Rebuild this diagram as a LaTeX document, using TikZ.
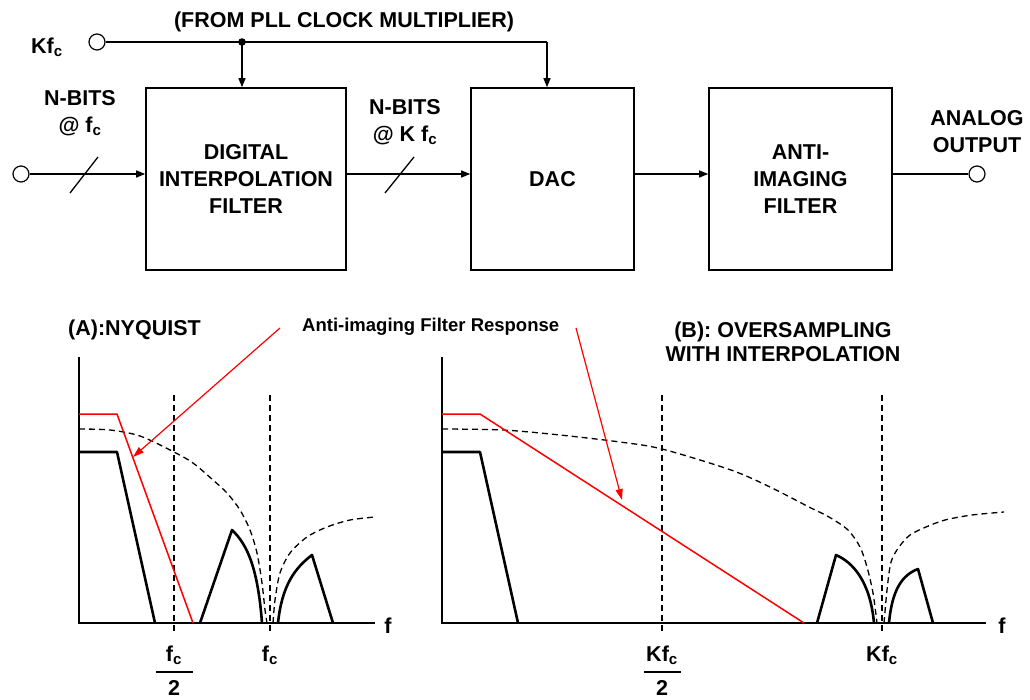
\documentclass[tikz,border=0pt]{standalone}
\usepackage{fontspec}
\setmainfont{Liberation Sans}
\usetikzlibrary{arrows.meta}
\begin{document}
\begin{tikzpicture}[x=1pt,y=-1pt,
  txt/.style={font=\fontsize{21.5}{27}\selectfont\bfseries, inner sep=0pt, align=center},
  blk/.style={draw, line width=1.6pt, minimum height=182pt, inner sep=0pt, align=center,
    font=\fontsize{21.5}{27}\selectfont\bfseries},
  term/.style={draw, circle, line width=1.2pt, minimum size=16pt, inner sep=0pt, fill=white},
  conn/.style={line width=1.3pt},
  arr/.style={conn, -{Triangle[length=9pt,width=7pt]}},
  rarr/.style={red, line width=1.2pt, -{Triangle[length=11pt,width=7pt]}},
  axisl/.style={line width=1.8pt},
  spec/.style={line width=2.6pt, line join=round},
  dashln/.style={line width=1.3pt, dash pattern=on 6pt off 4pt},
  redc/.style={red, line width=1.5pt},
]
\useasboundingbox (0,0) rectangle (1030,700);

% ---------- block diagram ----------
\node[blk, minimum width=200pt] (dif) at (246,179) {DIGITAL\\INTERPOLATION\\FILTER};
\node[blk, minimum width=163pt] (dac) at (552.5,179) {DAC};
\node[blk, minimum width=183pt] (aif) at (800.5,179) {ANTI-\\IMAGING\\FILTER};

\node[term] (kin) at (97,42) {};
\node[term] (in) at (21,174) {};
\node[term] (out) at (977,174) {};

\node[txt] (kl) at (47,47) {Kf\textsubscript{c}};
\node[txt] (pll) at (344,22) {(FROM PLL CLOCK MULTIPLIER)};
\node[txt] (nb1) at (80,113) {N-BITS\\@ f\textsubscript{c}};
\node[txt] (nb2) at (405,122) {N-BITS\\@ K f\textsubscript{c}};
\node[txt] (ao) at (977,132) {ANALOG\\OUTPUT};

\coordinate (jn) at (242,42);
\coordinate (dk) at (547,42);
\draw[conn] (kin.east) -- (jn) -- (dk);
\fill (jn) circle (3.8pt);
\draw[arr] (jn) -- (jn |- dif.north);
\draw[arr] (dk) -- (dk |- dac.north);

\draw[arr] (in.east) -- (in.east -| dif.west);
\draw[arr] (in.east -| dif.east) -- (in.east -| dac.west);
\draw[arr] (in.east -| dac.east) -- (in.east -| aif.west);
\draw[conn] (out.west -| aif.east) -- (out.west);

% bus slashes
\draw[conn] (70,193) -- (98,157);
\draw[conn] (385,193) -- (414,157);

% ---------- graph A ----------
\node[txt, anchor=west] (ta) at (68,330) {(A):NYQUIST};
\node[font=\fontsize{18.5}{22}\selectfont\bfseries, inner sep=0pt, anchor=west] (resp) at (302,327) {Anti-imaging Filter Response};

\coordinate (oa) at (79,623);
\draw[axisl] (79,357) -- (oa) -- (375,623);
\node[txt] (fa) at (388,626) {f};

\draw[dashln] (174,395) -- (174,633);
\draw[dashln] (270,395) -- (270,633);

\draw[dashln] plot[smooth, tension=0.5] coordinates {(79,429) (110,430) (140,436) (174,452) (193,463) (213,480) (227,493) (240,510) (250,530) (257,553) (262,583) (265,610) (267,623)};
\draw[dashln] plot[smooth, tension=0.5] coordinates {(273,623) (275,600) (280,573) (290,553) (307,537) (327,527) (350,520) (375,517)};

\draw[redc] (79,414) -- (117,414) -- (193,623);
\draw[spec] (79,452) -- (117,452) -- (155,623);
\draw[spec] (200,623) -- (232,530) .. controls (248,545) and (258,570) .. (262,623);
\draw[spec] (278,623) .. controls (282,585) and (295,568) .. (312,555) -- (333,623);

\coordinate (ra1) at (280,328);
\coordinate (ra1e) at (133,457);
\draw[rarr] (ra1) -- (ra1e);

\node[txt] (a1) at (174,655) {f\textsubscript{c}};
\draw[line width=1.4pt] (156,672) -- (193,672);
\node[txt] (a2) at (174,688) {2};
\node[txt] (a3) at (270,655) {f\textsubscript{c}};

% ---------- graph B ----------
\node[txt, font=\fontsize{21.5}{24}\selectfont\bfseries] (tb) at (783,342) {(B): OVERSAMPLING\\WITH INTERPOLATION};

\draw[axisl] (442,357) -- (442,623) -- (986,623);
\node[txt] (fb) at (1002,626) {f};

\draw[dashln] (662,395) -- (662,633);
\draw[dashln] (882,395) -- (882,633);

\draw[dashln] plot[smooth, tension=0.5] coordinates {(442,429) (503,430) (560,435) (620,442) (662,449) (731,470) (770,487) (809,507) (829,517) (848,530) (860,547) (867,567) (873,593) (877,623)};
\draw[dashln] plot[smooth, tension=0.5] coordinates {(884,623) (887,590) (891,562) (899,547) (910,535) (926,527) (945,520) (972,515) (1004,512)};

\draw[redc] (442,414) -- (480,414) -- (804,623);
\draw[spec] (442,452) -- (480,452) -- (518,623);
\draw[spec] (817,623) -- (836,555) .. controls (852,562) and (870,580) .. (874,623);
\draw[spec] (889,623) .. controls (892,590) and (902,575) .. (918,569) -- (933,623);

\coordinate (ra2) at (576,328);
\coordinate (ra2e) at (622,500);
\draw[rarr] (ra2) -- (ra2e);

\node[txt] (b1) at (662,655) {Kf\textsubscript{c}};
\draw[line width=1.4pt] (644,672) -- (681,672);
\node[txt] (b2) at (662,688) {2};
\node[txt] (b3) at (882,655) {Kf\textsubscript{c}};
\end{tikzpicture}
\end{document}
